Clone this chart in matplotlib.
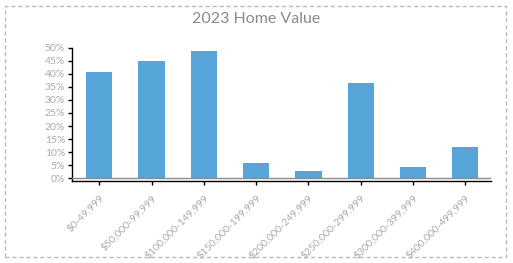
import matplotlib
matplotlib.use("Agg")
import matplotlib.pyplot as plt
from matplotlib.patches import Rectangle

categories = ["$0-49,999", "$50,000-99,999", "$100,000-149,999", "$150,000-199,999",
              "$200,000-249,999", "$250,000-299,999", "$300,000-399,999", "$400,000-499,999"]
values = [40.7, 45.0, 48.7, 5.9, 2.8, 36.5, 4.3, 12.0]
yticks = list(range(0, 51, 5))

plt.rcParams["font.family"] = ["Lato", "DejaVu Sans"]

fig = plt.figure(figsize=(5.13, 2.63), dpi=100)
ax = fig.add_axes([72 / 513, 82.5 / 263, 419 / 513, 132.8 / 263])

x = range(len(categories))
ax.bar(x, values, width=0.5, color="#56a5d9", zorder=2)
ax.axhline(0, color="#8c8c8c", lw=1.0, zorder=3)

ax.set_xlim(-0.52, 7.49)
ax.set_ylim(-0.85, 50)
ax.set_yticks(yticks)
ax.set_yticklabels([f"{t}%" for t in yticks])
ax.set_xticks(list(x))
ax.set_xticklabels(categories, rotation=45, ha="right", rotation_mode="anchor")

for side in ("top", "right"):
    ax.spines[side].set_visible(False)
for side in ("left", "bottom"):
    ax.spines[side].set_color("black")
    ax.spines[side].set_linewidth(1.0)
ax.tick_params(axis="both", colors="black", length=3, width=1.0, labelsize=7.5,
               labelcolor="#aaaaaa", pad=2)
ax.tick_params(axis="x", pad=6)

fig.text(0.5, 1 - 19 / 263, "2023 Home Value", ha="center", va="center",
         fontsize=11.5, color="#8a8a8a")

border = Rectangle((4.5 / 513, 6 / 263), 501 / 513, 251 / 263, transform=fig.transFigure,
                   fill=False, edgecolor="#bbbbbb", lw=1, linestyle=(0, (3, 2)))
fig.patches.append(border)

fig.savefig("out.png", dpi=100)
